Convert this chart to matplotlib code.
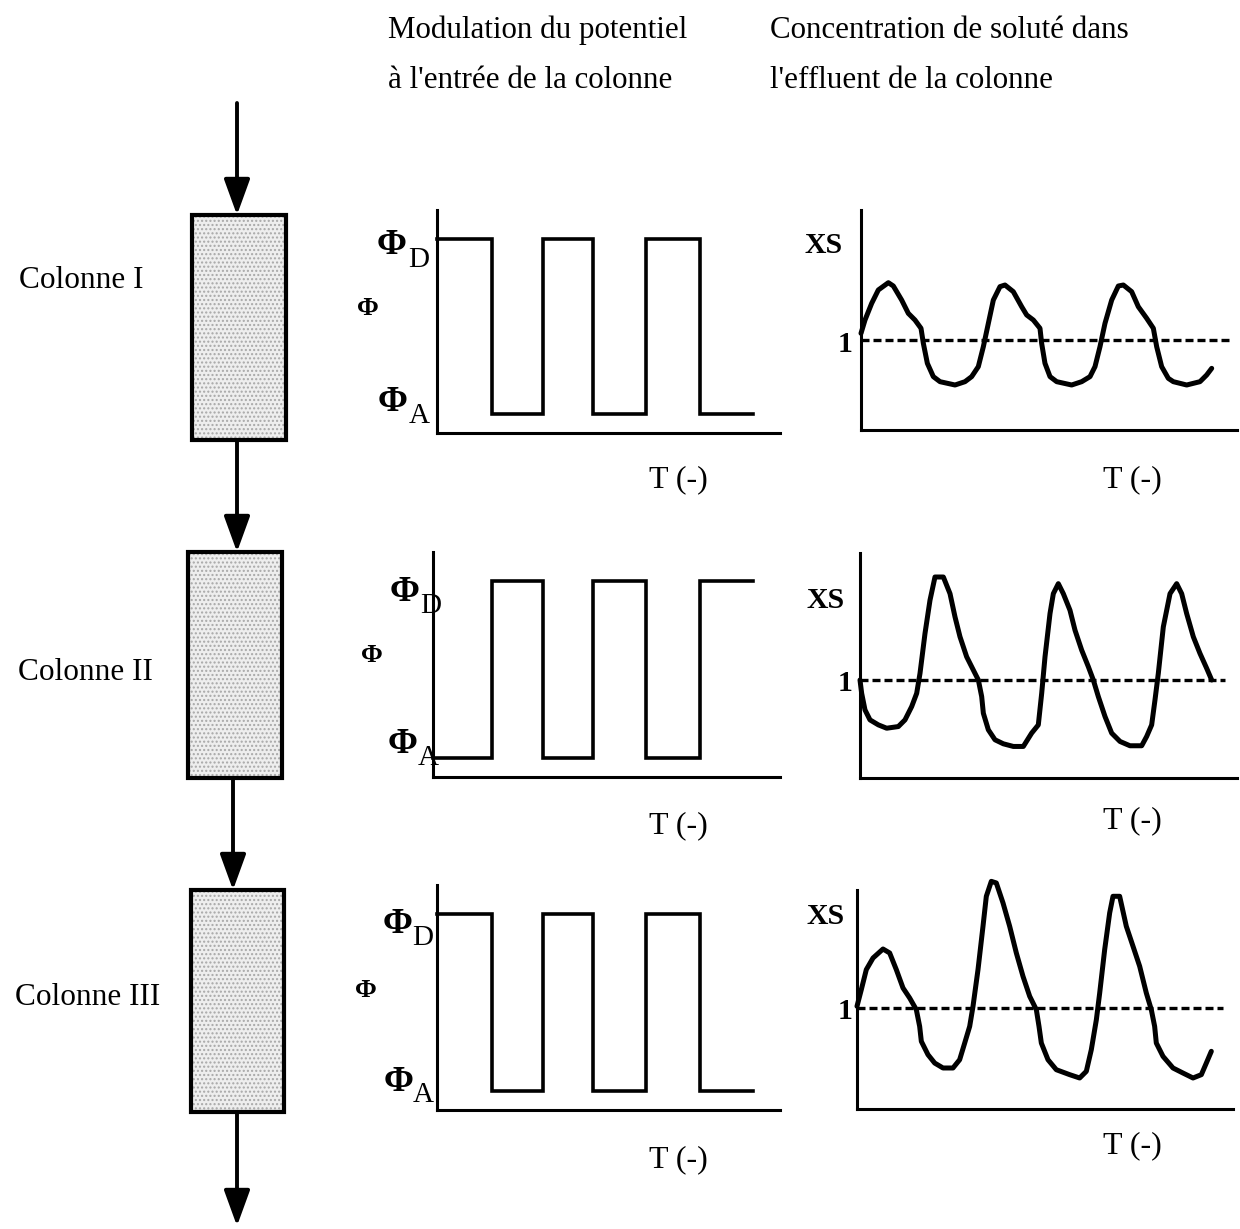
import matplotlib
matplotlib.use("Agg")
import matplotlib.pyplot as plt
from matplotlib.patches import Rectangle, FancyArrowPatch

plt.rcParams['font.family'] = ['Liberation Serif', 'DejaVu Serif']

W, H = 1240, 1229

# ---------------- data ----------------
header_left = ["Modulation du potentiel", "à l'entrée de la colonne"]
header_right = ["Concentration de soluté dans", "l'effluent de la colonne"]
column_names = ["Colonne I", "Colonne II", "Colonne III"]
time_label = "T (-)"
phi_label = "Φ"
xs_label = "XS"
ref_level = 1.0

phi_D = 0.87
phi_A = 0.085

# square-wave potential at column inlet (switch times, levels)
switch_T_I = [0.0, 1.06, 2.04, 3.00, 4.02, 5.06, 6.08]
levels_I = [phi_D, phi_A, phi_D, phi_A, phi_D, phi_A]
switch_T_II = [0.0, 1.13, 2.12, 3.08, 4.10, 5.13, 6.15]
levels_II = [phi_A, phi_D, phi_A, phi_D, phi_A, phi_D]
switch_T_III = [0.0, 1.06, 2.04, 3.00, 4.02, 5.06, 6.08]
levels_III = [phi_D, phi_A, phi_D, phi_A, phi_D, phi_A]

# effluent concentration XS(T)
xs_T_I = [0, 0.077, 0.205, 0.333, 0.526, 0.622, 0.782, 0.910, 1.038, 1.154, 1.199,
          1.276, 1.391, 1.519, 1.808, 2.000, 2.128, 2.256, 2.353, 2.449, 2.545,
          2.673, 2.769, 2.929, 3.090, 3.186, 3.314, 3.442, 3.474, 3.538, 3.635,
          3.763, 4.051, 4.244, 4.404, 4.500, 4.596, 4.692, 4.821, 4.949, 5.045,
          5.205, 5.333, 5.494, 5.622, 5.686, 5.782, 5.910, 6.006, 6.263, 6.519,
          6.647, 6.744]
xs_I = [1.074, 1.222, 1.407, 1.556, 1.637, 1.600, 1.444, 1.296, 1.222, 1.130, 0.963,
        0.741, 0.593, 0.537, 0.500, 0.537, 0.593, 0.704, 0.926, 1.185, 1.444,
        1.593, 1.611, 1.537, 1.370, 1.278, 1.222, 1.130, 0.963, 0.741, 0.593,
        0.537, 0.500, 0.537, 0.593, 0.704, 0.926, 1.185, 1.444, 1.600, 1.611,
        1.537, 1.370, 1.241, 1.130, 0.926, 0.704, 0.574, 0.537, 0.500, 0.537,
        0.611, 0.685]

xs_T_II = [0, 0.032, 0.096, 0.192, 0.353, 0.513, 0.737, 0.865, 0.994, 1.090, 1.154,
           1.250, 1.346, 1.442, 1.603, 1.731, 1.827, 1.923, 2.051, 2.179, 2.276,
           2.340, 2.372, 2.468, 2.596, 2.756, 2.949, 3.141, 3.301, 3.429, 3.494,
           3.558, 3.654, 3.718, 3.814, 3.910, 4.038, 4.135, 4.263, 4.391, 4.487,
           4.583, 4.712, 4.840, 5.000, 5.192, 5.417, 5.513, 5.609, 5.673, 5.737,
           5.833, 5.962, 6.090, 6.186, 6.282, 6.410, 6.538, 6.667, 6.763]
xs_II = [1.0, 0.864, 0.695, 0.593, 0.542, 0.508, 0.525, 0.593, 0.729, 0.864, 1.068,
         1.475, 1.814, 2.051, 2.051, 1.881, 1.644, 1.441, 1.237, 1.102, 1.0,
         0.831, 0.661, 0.492, 0.390, 0.349, 0.322, 0.322, 0.458, 0.542, 0.864,
         1.237, 1.678, 1.881, 1.983, 1.881, 1.712, 1.508, 1.305, 1.136, 1.0,
         0.831, 0.627, 0.458, 0.373, 0.329, 0.329, 0.424, 0.542, 0.797, 1.068,
         1.542, 1.881, 1.983, 1.881, 1.678, 1.441, 1.271, 1.119, 1.0]

xs_T_III = [0, 0.083, 0.179, 0.308, 0.500, 0.628, 0.756, 0.885, 1.013, 1.141, 1.205,
            1.237, 1.365, 1.494, 1.654, 1.846, 1.974, 2.071, 2.167, 2.231, 2.327,
            2.423, 2.487, 2.583, 2.679, 2.808, 2.936, 3.064, 3.192, 3.321, 3.449,
            3.500, 3.545, 3.673, 3.833, 4.090, 4.282, 4.410, 4.506, 4.603, 4.667,
            4.763, 4.859, 4.923, 5.051, 5.179, 5.308, 5.436, 5.564, 5.660, 5.724,
            5.756, 5.885, 6.077, 6.269, 6.462, 6.622, 6.718, 6.814]
xs_III = [1.017, 1.182, 1.380, 1.495, 1.584, 1.545, 1.380, 1.198, 1.099, 0.983, 0.818,
          0.670, 0.538, 0.455, 0.406, 0.406, 0.488, 0.653, 0.818, 1.017, 1.380,
          1.809, 2.106, 2.254, 2.238, 2.040, 1.809, 1.545, 1.314, 1.116, 0.983,
          0.818, 0.653, 0.488, 0.389, 0.340, 0.307, 0.373, 0.587, 0.884, 1.148,
          1.578, 1.941, 2.106, 2.106, 1.809, 1.611, 1.413, 1.148, 0.983, 0.818,
          0.653, 0.521, 0.406, 0.356, 0.307, 0.340, 0.455, 0.571]

# ---------------- layout (pixels) ----------------
PX_PER_T = 52.0
left_boxes = [(437, 210, 780, 433), (433, 552, 780, 777), (437, 885, 780, 1110)]
right_boxes = [(861, 210, 1237, 430), (860, 553, 1237, 778), (857, 890, 1233, 1109)]
right_dash_px = [340, 680, 1008]
dash_end_T = [7.10, 7.02, 7.04]

col_boxes = [(192, 215, 286, 440), (188, 552, 282, 778), (191, 890, 284, 1112)]
arrows = [(237, 103, 237, 215), (237, 440, 237, 552), (233, 778, 233, 890), (237, 1112, 237, 1226)]

fig = plt.figure(figsize=(W / 100, H / 100), dpi=100)
fig.patch.set_facecolor('white')

bg = fig.add_axes([0, 0, 1, 1])
bg.set_xlim(0, W)
bg.set_ylim(H, 0)
bg.axis('off')


def add_panel(box):
    x0, yt, x1, yb = box
    ax = fig.add_axes([x0 / W, 1 - yb / H, (x1 - x0) / W, (yb - yt) / H])
    ax.patch.set_alpha(0)
    for s in ['top', 'right']:
        ax.spines[s].set_visible(False)
    for s in ['left', 'bottom']:
        ax.spines[s].set_linewidth(2.2)
        ax.spines[s].set_capstyle('projecting')
    ax.set_xticks([])
    ax.set_yticks([])
    ax.set_xlim(0, (x1 - x0) / PX_PER_T)
    return ax


# square waves
waves = [(switch_T_I, levels_I), (switch_T_II, levels_II), (switch_T_III, levels_III)]
for box, (ts, lv) in zip(left_boxes, waves):
    ax = add_panel(box)
    ax.set_ylim(0, 1)
    ax.step(ts, lv + [lv[-1]], where='post', color='black', lw=2.6,
            solid_joinstyle='miter', clip_on=False)

# effluent curves
curves = [(xs_T_I, xs_I), (xs_T_II, xs_II), (xs_T_III, xs_III)]
for box, dpx, dend, (ts, ys) in zip(right_boxes, right_dash_px, dash_end_T, curves):
    x0, yt, x1, yb = box
    ax = add_panel(box)
    ax.set_ylim(0, (yb - yt) / (yb - dpx))
    ax.plot([0, dend], [ref_level, ref_level], color='black', lw=2.4,
            dashes=(2.4, 1.2), clip_on=False)
    ax.plot(ts, ys, color='black', lw=3.6, solid_joinstyle='round',
            solid_capstyle='round', clip_on=False)

# columns
for (x0, yt, x1, yb) in col_boxes:
    bg.add_patch(Rectangle((x0, yt), x1 - x0, yb - yt, facecolor='#eeeeee',
                           edgecolor='#a8a8a8', hatch='....', lw=0, zorder=1))
    bg.add_patch(Rectangle((x0, yt), x1 - x0, yb - yt, fill=False,
                           edgecolor='black', lw=3.0, zorder=2))

for (xa, ya, xb, yb_) in arrows:
    bg.add_patch(FancyArrowPatch((xa, ya), (xb, yb_),
                                 arrowstyle='-|>,head_length=2.2,head_width=0.8',
                                 mutation_scale=10, lw=2.8, color='black',
                                 shrinkA=0, shrinkB=0, zorder=3))

FS = 22.3
# headers
bg.text(388, 38, header_left[0], fontsize=FS, va='baseline', ha='left')
bg.text(388, 88, header_left[1], fontsize=FS, va='baseline', ha='left')
bg.text(770, 38, header_right[0], fontsize=FS, va='baseline', ha='left')
bg.text(770, 88, header_right[1], fontsize=FS, va='baseline', ha='left')

# column names
for name, (x, y) in zip(column_names, [(19, 288), (18, 680), (15, 1005)]):
    bg.text(x, y, name, fontsize=22.5, va='baseline', ha='left')

# left-panel labels: (phi x, baseline, sub x, sub baseline), phi alone, T baseline
left_lbl = [
    dict(D=(392, 254, 408, 267), A=(393, 411, 409, 423), P=(368, 315), T=487),
    dict(D=(405, 601, 420, 613), A=(403, 753, 418, 765), P=(372, 662), T=833),
    dict(D=(398, 933, 412, 945), A=(399, 1091, 413, 1102), P=(366, 997), T=1167),
]
for lb in left_lbl:
    for key, sub in (('D', 'D'), ('A', 'A')):
        px, py, sx, sy = lb[key]
        bg.text(px, py, phi_label, fontsize=26, fontweight='bold', ha='center', va='baseline')
        bg.text(sx, sy, sub, fontsize=21, ha='left', va='baseline')
    px, py = lb['P']
    bg.text(px, py, phi_label, fontsize=19, fontweight='bold', ha='center', va='baseline')
    bg.text(678, lb['T'], time_label, fontsize=23, ha='center', va='baseline')

right_lbl = [dict(XS=(824, 253), one=(853, 352), T=487),
             dict(XS=(826, 608), one=(853, 691), T=828),
             dict(XS=(826, 924), one=(852, 1019), T=1153)]
for lb in right_lbl:
    bg.text(*lb['XS'], xs_label, fontsize=21.5, fontweight='bold', ha='center', va='baseline')
    bg.text(*lb['one'], "1", fontsize=21.5, fontweight='bold', ha='right', va='baseline')
    bg.text(1132, lb['T'], time_label, fontsize=23, ha='center', va='baseline')

fig.savefig('out.png', dpi=100, facecolor='white')
